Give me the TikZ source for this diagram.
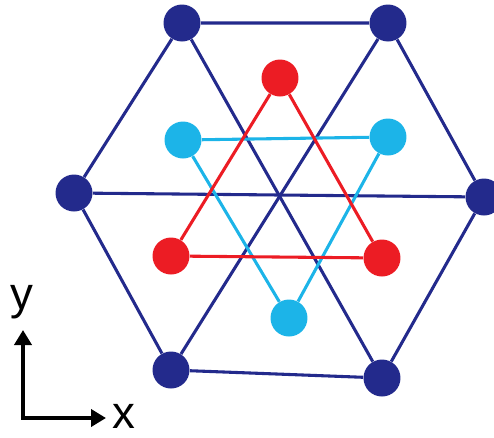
\documentclass[tikz,border=0pt]{standalone}
\usepackage{fontspec}
\setsansfont{Liberation Sans}
\usetikzlibrary{arrows.meta, backgrounds}
\definecolor{latNavy}{HTML}{232A8C}
\definecolor{latRed}{HTML}{EC1C24}
\definecolor{latCyan}{HTML}{1CB4E8}

\begin{document}
\begin{tikzpicture}[
    x=0.02cm, y=-0.02cm,
    site/.style={circle, fill=#1, inner sep=0pt, minimum size=0.74cm},
    bond/.style={draw=#1, line width=1.75pt},
    axis/.style={line width=2.3pt, -{Triangle[length=0.3cm, width=0.34cm]}},
    lbl/.style={font=\sffamily\fontsize{26}{26}\selectfont},
  ]
    \useasboundingbox (0,0) rectangle (494,437);

    % Hexagon sites
    \node[site=latNavy] (h1) at (182,23) {};
    \node[site=latNavy] (h2) at (388,23) {};
    \node[site=latNavy] (h3) at (484,197) {};
    \node[site=latNavy] (h4) at (382,378) {};
    \node[site=latNavy] (h5) at (171,370) {};
    \node[site=latNavy] (h6) at (74,193) {};

    % Red triangle
    \node[site=latRed] (r1) at (280,78) {};
    \node[site=latRed] (r2) at (382,258) {};
    \node[site=latRed] (r3) at (171,256) {};

    % Light blue triangle
    \node[site=latCyan] (c1) at (183,140) {};
    \node[site=latCyan] (c2) at (388,137) {};
    \node[site=latCyan] (c3) at (289,318) {};

    \begin{scope}[on background layer]
      \draw[bond=latNavy] (h1) -- (h2) -- (h3) -- (h4) -- (h5) -- (h6) -- (h1);
      \draw[bond=latNavy] (h1) -- (h4);
      \draw[bond=latNavy] (h2) -- (h5);
      \draw[bond=latNavy] (h6) -- (h3);
      \draw[bond=latCyan] (c1) -- (c2) -- (c3) -- (c1);
      \draw[bond=latRed] (r1) -- (r2) -- (r3) -- (r1);
    \end{scope}

    % Axes
    \coordinate (o) at (23,418);
    \coordinate (ytip) at (23,330);
    \coordinate (xtip) at (106,418);
    \draw[axis] (o) -- (ytip);
    \draw[axis] ([xshift=-1.15pt]o) -- (xtip);
    \node[lbl] (ylbl) at (22,302) {y};
    \node[lbl] (xlbl) at (124,416) {x};
  \end{tikzpicture}
\end{document}
